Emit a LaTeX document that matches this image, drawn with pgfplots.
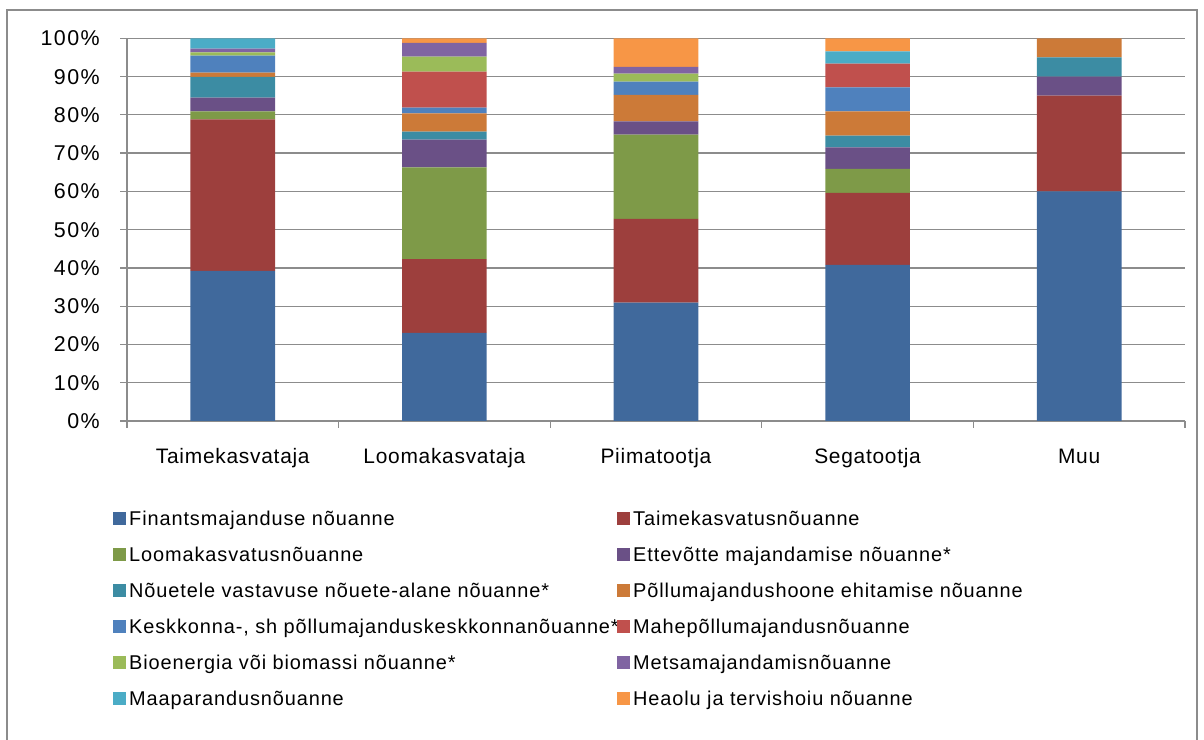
\documentclass[border=0pt]{standalone}
\usepackage{fontspec}
\setmainfont{Liberation Sans}
\newfontfamily\legfont[LetterSpace=4.5]{Liberation Sans}
\newfontfamily\xfont[LetterSpace=3.5]{Liberation Sans}
\newfontfamily\yfont[LetterSpace=7]{Liberation Sans}
\usepackage{pgfplots}
\usepackage{pgfplotstable}
\pgfplotsset{compat=1.18}

% series colours (Excel palette)
\definecolor{cFin}{HTML}{40699C}
\definecolor{cTaime}{HTML}{9D3F3D}
\definecolor{cLoom}{HTML}{7E9A48}
\definecolor{cEttev}{HTML}{6A5086}
\definecolor{cNouet}{HTML}{3C8CA3}
\definecolor{cPollu}{HTML}{CC7A38}
\definecolor{cKeskk}{HTML}{4F81BD}
\definecolor{cMahe}{HTML}{C0504D}
\definecolor{cBio}{HTML}{9BBB59}
\definecolor{cMetsa}{HTML}{8064A2}
\definecolor{cMaapar}{HTML}{4BACC6}
\definecolor{cHeaolu}{HTML}{F79646}
\definecolor{gridgray}{HTML}{8C8C8C}

\pgfplotsset{sqlegend/.style={legend image code/.code={\fill[##1] (0bp,-6.5bp) rectangle (13bp,6.5bp);}}}

% shares in percent, x = category index
\pgfplotstableread{
x fin taime loom ettev nouet pollu keskk mahe bio metsa maapar heaolu
0 39.2 39.6 2.1 3.6 5.4 1.1 4.5 0 0.8 1.0 2.7 0
1 23.0 19.3 24.0 7.2 2.1 4.8 1.5 9.4 3.9 3.6 0 1.2
2 30.9 21.9 22.0 3.5 0 6.9 3.5 0 2.1 1.7 0 7.5
3 40.8 18.8 6.3 5.6 3.1 6.3 6.3 6.2 0 0 3.2 3.4
4 60 25 0 5 5 5 0 0 0 0 0 0
}\shares

\newcommand{\lt}[1]{\makebox[485bp][l]{#1}}

\begin{document}
\begin{tikzpicture}
\useasboundingbox (0,0) rectangle (1204bp,740bp);
\draw[gridgray, line width=1.2bp] (7bp,-20bp) rectangle (1197bp,730bp);
\begin{axis}[
    at={(127bp,319bp)}, anchor=south west,
    scale only axis, width=1058bp, height=382.7bp,
    ybar stacked, bar width=0.4,
    every axis plot post/.append style={sqlegend},
    xmin=-0.5, xmax=4.5, ymin=0, ymax=100,
    enlarge x limits=false, enlarge y limits=false,
    axis x line*=bottom, axis y line*=left,
    axis line style={-, gridgray, line width=1.3bp},
    xtick={0,1,2,3,4},
    xticklabels={Taimekasvataja,Loomakasvataja,Piimatootja,Segatootja,Muu},
    minor xtick={-0.5,0.5,1.5,2.5,3.5,4.5},
    major x tick style={draw=none},
    minor x tick style={gridgray, line width=1.3bp},
    ytick={0,10,...,100},
    yticklabels={0\%,10\%,20\%,30\%,40\%,50\%,60\%,70\%,80\%,90\%,100\%},
    ytick style={gridgray, line width=1.3bp},
    tick align=outside, major tick length=7bp, minor tick length=7bp,
    ymajorgrids, major grid style={gridgray, line width=1.3bp},
    tick label style={inner sep=0pt},
    xticklabel style={font=\xfont\fontsize{21}{25}\selectfont, anchor=base, yshift=-35bp},
    yticklabel style={font=\yfont\fontsize{21.5}{25}\selectfont, anchor=base east, xshift=-20bp, yshift=-7.5bp},
    legend columns=2, legend cell align=left,
    legend style={at={(-0.01323,-0.22995)}, anchor=north west,
        draw=none, fill=none, inner sep=0pt,
        column sep=3bp, row sep=18bp,
        font=\legfont\fontsize{20}{24}\selectfont,
        nodes={inner sep=0pt, text height=16bp, text depth=2bp}},
]
\addplot[fill=cFin, draw=none] table[x=x, y=fin] {\shares};
\addlegendentry{\lt{Finantsmajanduse nõuanne}}
\addplot[fill=cTaime, draw=none] table[x=x, y=taime] {\shares};
\addlegendentry{\lt{Taimekasvatusnõuanne}}
\addplot[fill=cLoom, draw=none] table[x=x, y=loom] {\shares};
\addlegendentry{\lt{Loomakasvatusnõuanne}}
\addplot[fill=cEttev, draw=none] table[x=x, y=ettev] {\shares};
\addlegendentry{\lt{Ettevõtte majandamise nõuanne*}}
\addplot[fill=cNouet, draw=none] table[x=x, y=nouet] {\shares};
\addlegendentry{\lt{Nõuetele vastavuse nõuete-alane nõuanne*}}
\addplot[fill=cPollu, draw=none] table[x=x, y=pollu] {\shares};
\addlegendentry{\lt{Põllumajandushoone ehitamise nõuanne}}
\addplot[fill=cKeskk, draw=none] table[x=x, y=keskk] {\shares};
\addlegendentry{\lt{Keskkonna-, sh põllumajanduskeskkonnanõuanne*}}
\addplot[fill=cMahe, draw=none] table[x=x, y=mahe] {\shares};
\addlegendentry{\lt{Mahepõllumajandusnõuanne}}
\addplot[fill=cBio, draw=none] table[x=x, y=bio] {\shares};
\addlegendentry{\lt{Bioenergia või biomassi nõuanne*}}
\addplot[fill=cMetsa, draw=none] table[x=x, y=metsa] {\shares};
\addlegendentry{\lt{Metsamajandamisnõuanne}}
\addplot[fill=cMaapar, draw=none] table[x=x, y=maapar] {\shares};
\addlegendentry{\lt{Maaparandusnõuanne}}
\addplot[fill=cHeaolu, draw=none] table[x=x, y=heaolu] {\shares};
\addlegendentry{\lt{Heaolu ja tervishoiu nõuanne}}
\end{axis}
\end{tikzpicture}
\end{document}
